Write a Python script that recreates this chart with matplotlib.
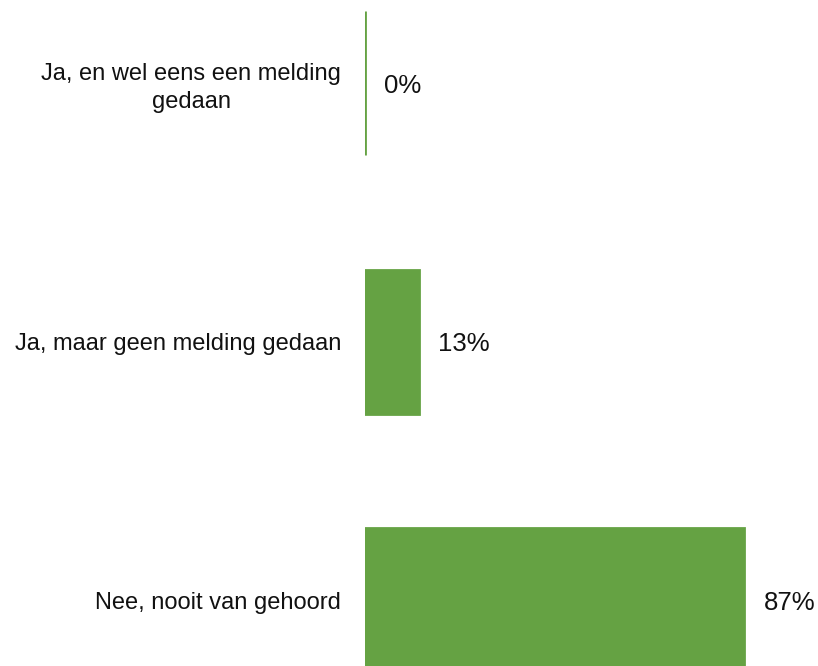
import matplotlib
matplotlib.use('Agg')
import matplotlib.pyplot as plt

categories = ['Ja, en wel eens een melding\ngedaan', 'Ja, maar geen melding gedaan', 'Nee, nooit van gehoord']
values = [0, 12.5, 87.5]
value_labels = ['0%', '13%', '87%']

plt.rcParams['font.family'] = ['Liberation Sans', 'DejaVu Sans']

fig = plt.figure(figsize=(8.18, 6.66), dpi=100)
ax = fig.add_axes([0.446, 0.0, 0.53, 1.0])

green = '#65a243'
ypos = range(len(categories))
ax.barh(ypos, values, height=0.557, color=green, edgecolor=green, linewidth=2)

for y, v, lab in zip(ypos, values, value_labels):
    ax.annotate(lab, xy=(v, y), xytext=(14, -2), textcoords='offset points',
                ha='left', va='center', fontsize=18.5, color='#111111')

ax.set_xlim(0, 100)
ax.set_ylim(2.255, -0.321)
ax.set_yticks(list(ypos))
ax.set_yticklabels(categories, fontsize=17, color='#111111', multialignment='center',
                   linespacing=1.3)
ax.tick_params(axis='y', length=0, pad=17)
ax.set_xticks([])
for s in ax.spines.values():
    s.set_visible(False)

fig.savefig('out.png', dpi=100)
